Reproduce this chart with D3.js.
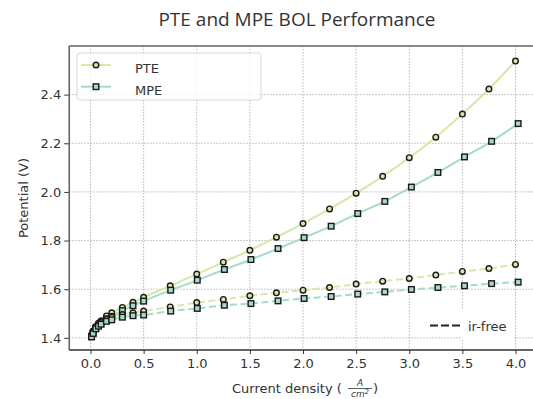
<!DOCTYPE html>
<html>
<head>
<meta charset="utf-8">
<script src="https://cdn.jsdelivr.net/npm/d3@7"></script>
<style>
  html, body { margin: 0; padding: 0; background: #fff; overflow: hidden; }
  svg { display: block; }
  text { font-family: "DejaVu Sans", sans-serif; }
</style>
</head>
<body>
<svg id="chart" width="533" height="399"></svg>
<script>
// Current density (A/cm^2) for each operating point
const pteCurrent = [0.01, 0.025, 0.05, 0.075, 0.1, 0.15, 0.2, 0.3, 0.4, 0.5, 0.75, 1.0, 1.25, 1.5, 1.75, 2.0, 2.25, 2.5, 2.75, 3.0, 3.25, 3.5, 3.75, 4.0];
const mpeCurrent = [0.01, 0.025, 0.05, 0.075, 0.1, 0.15, 0.2, 0.3, 0.4, 0.5, 0.755, 1.005, 1.26, 1.51, 1.765, 2.01, 2.265, 2.515, 2.77, 3.02, 3.27, 3.52, 3.775, 4.025];

// Measured cell potential (V)
const pteVoltage = [1.412, 1.428, 1.447, 1.460, 1.470, 1.490, 1.503, 1.525, 1.546, 1.567, 1.614, 1.662, 1.711, 1.760, 1.814, 1.870, 1.930, 1.995, 2.064, 2.141, 2.225, 2.320, 2.423, 2.538];
const mpeVoltage = [1.405, 1.420, 1.440, 1.452, 1.462, 1.478, 1.488, 1.512, 1.532, 1.551, 1.596, 1.637, 1.681, 1.722, 1.767, 1.812, 1.859, 1.911, 1.961, 2.020, 2.080, 2.144, 2.208, 2.281];

// iR-free potential (V)
const pteIrFree = [1.411, 1.426, 1.444, 1.455, 1.463, 1.476, 1.484, 1.496, 1.503, 1.510, 1.527, 1.545, 1.558, 1.573, 1.585, 1.596, 1.607, 1.621, 1.633, 1.644, 1.658, 1.673, 1.685, 1.702];
const mpeIrFree = [1.404, 1.418, 1.437, 1.448, 1.456, 1.468, 1.474, 1.485, 1.491, 1.494, 1.510, 1.521, 1.534, 1.541, 1.552, 1.562, 1.570, 1.580, 1.589, 1.599, 1.607, 1.614, 1.623, 1.629];

const xTicks = [0.0, 0.5, 1.0, 1.5, 2.0, 2.5, 3.0, 3.5, 4.0];
const yTicks = [1.4, 1.6, 1.8, 2.0, 2.2, 2.4];
const seriesNames = ["PTE", "MPE"];

const colors = { PTE: "#d6e8a8", MPE: "#a6dcc6" };

const svg = d3.select("#chart");
const plot = { left: 69.25, right: 536.75, top: 46, bottom: 350 };

const x = d3.scaleLinear().domain([-0.2, 4.2]).range([plot.left, plot.right]);
const y = d3.scaleLinear().domain([1.35, 2.6]).range([plot.bottom, plot.top]);

// Title
svg.append("text")
  .attr("x", 297).attr("y", 26)
  .attr("text-anchor", "middle")
  .style("font-family", "'Open Sans', sans-serif")
  .style("font-size", "19px")
  .attr("fill", "#333")
  .text("PTE and MPE BOL Performance");

// Grid
const grid = svg.append("g").attr("class", "grid");
grid.selectAll("line.gx").data(xTicks).join("line")
  .attr("x1", d => x(d)).attr("x2", d => x(d))
  .attr("y1", plot.top).attr("y2", plot.bottom)
  .attr("stroke", "#b8b8b8").attr("stroke-width", 1).attr("stroke-dasharray", "1.5,1.5");
grid.selectAll("line.gy").data(yTicks).join("line")
  .attr("x1", plot.left).attr("x2", plot.right)
  .attr("y1", d => y(d)).attr("y2", d => y(d))
  .attr("stroke", "#b8b8b8").attr("stroke-width", 1).attr("stroke-dasharray", "1.5,1.5");

// Axes
const xAxis = d3.axisBottom(x).tickValues(xTicks).tickFormat(d3.format(".1f")).tickSize(4).tickPadding(5);
const yAxis = d3.axisLeft(y).tickValues(yTicks).tickFormat(d3.format(".1f")).tickSize(5).tickPadding(3);

const gx = svg.append("g").attr("transform", `translate(0,${plot.bottom})`).call(xAxis);
const gy = svg.append("g").attr("transform", `translate(${plot.left},0)`).call(yAxis);
[gx, gy].forEach(g => {
  g.select(".domain").remove();
  g.selectAll(".tick line").attr("stroke", "#333").attr("stroke-width", 1);
  g.selectAll(".tick text").attr("fill", "#333").style("font-size", "13px").style("font-family", "'DejaVu Sans', sans-serif");
});

// Spines (the right one sits past the visible edge)
svg.append("line").attr("x1", plot.left).attr("x2", plot.right).attr("y1", plot.top).attr("y2", plot.top)
  .attr("stroke", "#8a8a8a").attr("stroke-width", 2);
svg.append("line").attr("x1", plot.left).attr("x2", plot.left).attr("y1", plot.top).attr("y2", plot.bottom)
  .attr("stroke", "#666").attr("stroke-width", 1.6);
svg.append("line").attr("x1", plot.left).attr("x2", plot.right).attr("y1", plot.bottom).attr("y2", plot.bottom)
  .attr("stroke", "#333").attr("stroke-width", 1.4);

// Axis labels
svg.append("text")
  .attr("transform", "translate(28,198) rotate(-90)")
  .attr("text-anchor", "middle")
  .style("font-size", "13px").attr("fill", "#333")
  .text("Potential (V)");

const xl = svg.append("g").attr("fill", "#333");
xl.append("text").attr("x", 232).attr("y", 393).style("font-size", "13px").text("Current density (");
xl.append("text").attr("x", 360).attr("y", 385.5).attr("text-anchor", "middle")
  .style("font-size", "9px").style("font-style", "italic").text("A");
xl.append("line").attr("x1", 348).attr("x2", 372).attr("y1", 388.5).attr("y2", 388.5).attr("stroke", "#333").attr("stroke-width", 0.8);
const den = xl.append("text").attr("x", 360).attr("y", 397).attr("text-anchor", "middle")
  .style("font-size", "9px").style("font-style", "italic");
den.append("tspan").text("cm");
den.append("tspan").attr("dy", -3).style("font-size", "6.5px").text("2");
xl.append("text").attr("x", 373).attr("y", 393).style("font-size", "13px").text(")");

// Data series
const series = [
  { name: "PTE", xs: pteCurrent, ys: pteVoltage, dashed: false, marker: "circle" },
  { name: "MPE", xs: mpeCurrent, ys: mpeVoltage, dashed: false, marker: "square" },
  { name: "PTE", xs: pteCurrent, ys: pteIrFree, dashed: true, marker: "circle" },
  { name: "MPE", xs: mpeCurrent, ys: mpeIrFree, dashed: true, marker: "square" }
];

const line = d3.line().x(d => x(d[0])).y(d => y(d[1])).curve(d3.curveMonotoneX);
svg.append("clipPath").attr("id", "plotclip").append("rect")
  .attr("x", plot.left).attr("y", plot.top).attr("width", plot.right - plot.left).attr("height", plot.bottom - plot.top);
const dataG = svg.append("g").attr("clip-path", "url(#plotclip)");

series.forEach(s => {
  const pts = s.xs.map((v, i) => [v, s.ys[i]]);
  dataG.append("path").datum(pts)
    .attr("d", line)
    .attr("fill", "none")
    .attr("stroke", colors[s.name])
    .attr("stroke-width", 2)
    .attr("stroke-dasharray", s.dashed ? "7,3.5" : null);
});

function drawMarker(g, type, cx, cy, fill) {
  if (type === "circle") {
    g.append("circle").attr("cx", cx).attr("cy", cy).attr("r", 2.8)
      .attr("fill", fill).attr("stroke", "#1a1a1a").attr("stroke-width", 1.4);
  } else {
    g.append("rect").attr("x", cx - 2.8).attr("y", cy - 2.8).attr("width", 5.6).attr("height", 5.6)
      .attr("fill", fill).attr("stroke", "#1a1a1a").attr("stroke-width", 1.4);
  }
}

series.forEach(s => {
  s.xs.forEach((v, i) => drawMarker(dataG, s.marker, x(v), y(s.ys[i]), colors[s.name]));
});

// Series legend
const leg = svg.append("g");
leg.append("rect").attr("x", 77).attr("y", 53).attr("width", 184).attr("height", 47).attr("rx", 3)
  .attr("fill", "#fff").attr("fill-opacity", 0.8).attr("stroke", "#d8d8d8").attr("stroke-width", 1);
seriesNames.forEach((n, i) => {
  const ly = 65 + i * 21.7;
  leg.append("line").attr("x1", 81).attr("x2", 111).attr("y1", ly).attr("y2", ly)
    .attr("stroke", colors[n]).attr("stroke-width", 2);
  drawMarker(leg, i === 0 ? "circle" : "square", 96, ly, colors[n]);
  leg.append("text").attr("x", 135).attr("y", ly + 8).style("font-size", "13px").attr("fill", "#333").text(n);
});

// Line-style legend
const leg2 = svg.append("g");
leg2.append("rect").attr("x", 461).attr("y", 310).attr("width", 53).attr("height", 29).attr("fill", "#fff");
leg2.append("line").attr("x1", 430).attr("x2", 460).attr("y1", 325.5).attr("y2", 325.5)
  .attr("stroke", "#222").attr("stroke-width", 2.2).attr("stroke-dasharray", "8,3");
leg2.append("text").attr("x", 468).attr("y", 330.5).style("font-size", "13px").attr("fill", "#333").text("ir-free");
</script>
</body>
</html>
